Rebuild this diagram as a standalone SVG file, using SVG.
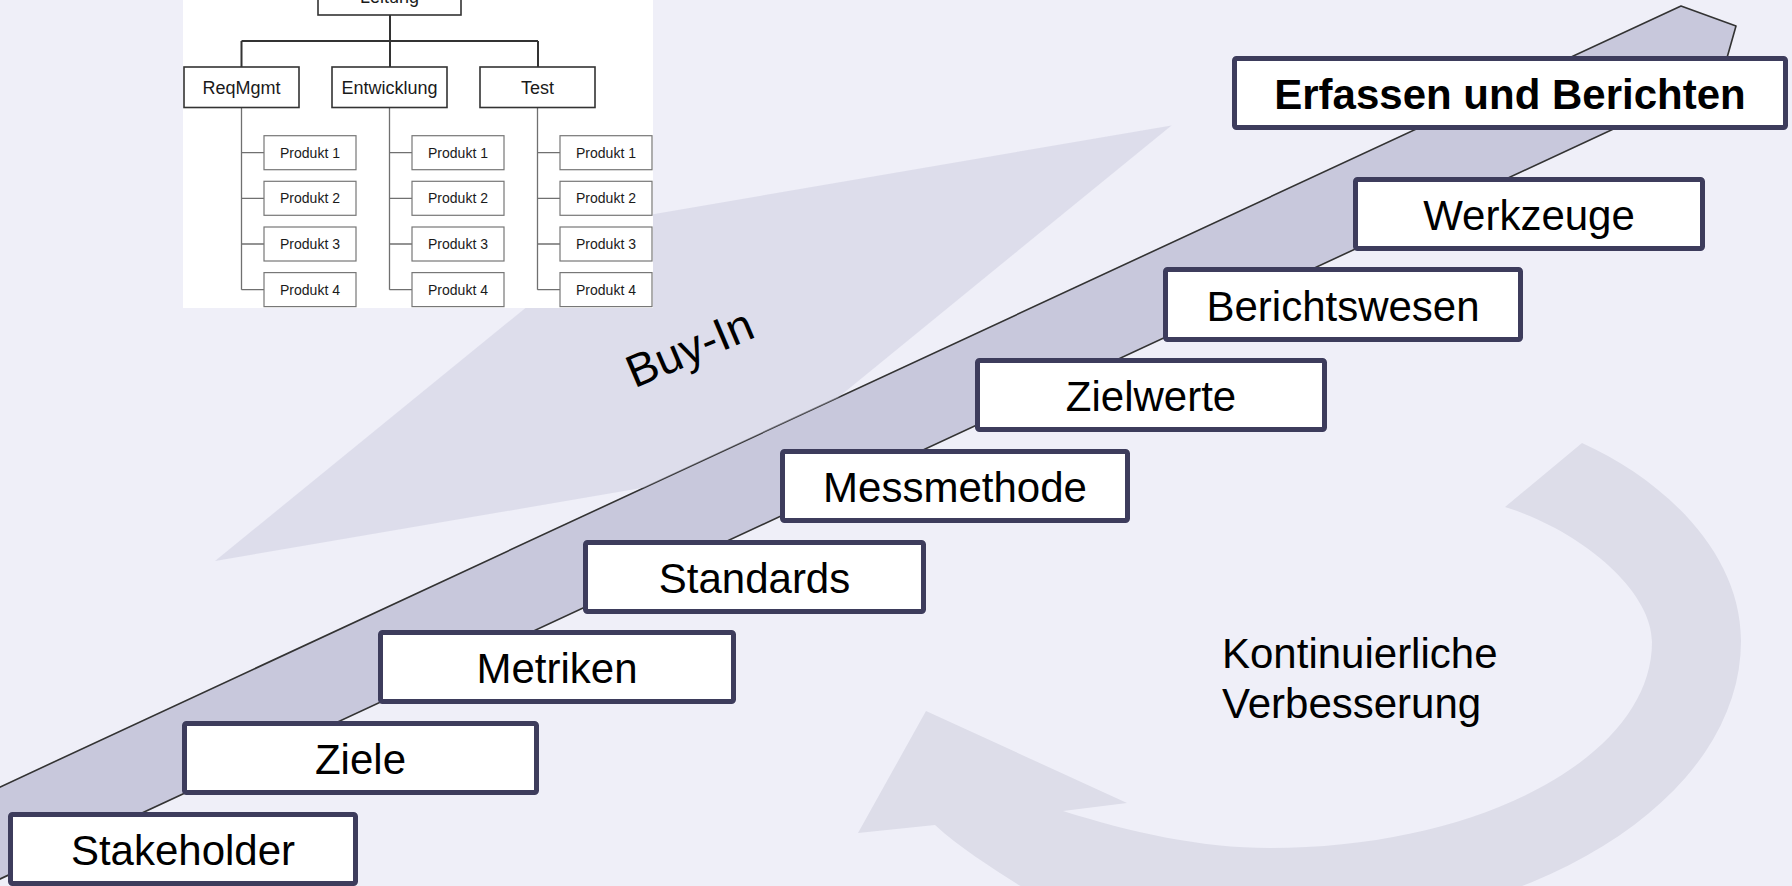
<svg xmlns="http://www.w3.org/2000/svg" width="1792" height="886" viewBox="0 0 1792 886">
<style>
.box{fill:#ffffff;stroke:#3d3c5c;stroke-width:5}
.lbl{font-family:"Liberation Sans",Arial,sans-serif;font-size:42px;fill:#000;text-anchor:middle}
.bold{font-weight:bold}
.oc1{fill:#fff;stroke:#333;stroke-width:1.6}
.oc2{fill:#fff;stroke:#777;stroke-width:1.2}
.oct1{font-family:"Liberation Sans",Arial,sans-serif;font-size:18px;fill:#1a1a1a;text-anchor:middle}
.oct2{font-family:"Liberation Sans",Arial,sans-serif;font-size:14px;fill:#1a1a1a;text-anchor:middle}
.ocl1{stroke:#333;stroke-width:2;fill:none}
.ocl2{stroke:#707070;stroke-width:1.3;fill:none}
.light{fill:#dddde9}
</style>
<rect x="0" y="0" width="1792" height="886" fill="#efeff8"/>

<g id="cycle-arrow">
<path class="light" d="M 1582 443 C 1660 478 1741 550 1741 641 A 471 290 0 0 1 1270 931 A 471 290 0 0 1 1022 887 C 995 870 960 848 935 825 L 858 833 L 926 711 L 1127 803 L 1063 811 C 1130 832 1200 848 1270 848 C 1481 848 1652 756 1652 642 C 1652 590 1580 530 1505 507 Z"/>
</g>

<g id="ramp">
<path d="M -20 796.3 L 1681 6 L 1736 26 L 1721 79 L -20 888.3 Z" fill="#c8c8dc" stroke="#333333" stroke-width="1.6" stroke-linejoin="round"/>
</g>

<g id="buy-in-shape">
<polygon points="215,561 637,217 1171.5,125.4 837.5,397.9 644.4,487.6" fill="#c8c8dc" fill-opacity="0.46"/>
<text x="634.6" y="388.4" transform="rotate(-23 634.6 388.4)" font-family="Liberation Sans, Arial, sans-serif" font-size="46" fill="#000">Buy-In</text>
</g>

<g id="orgchart">
<rect x="183" y="0" width="470" height="308" fill="#ffffff"/>
<g id="connectors">
<path class="ocl1" d="M 390 15 V 41 M 241.5 41 H 538 M 241.5 41 V 67 M 390 41 V 67 M 538 41 V 67"/>
<path class="ocl2" d="M 241.5 107 V 289.7 M 389.5 107 V 289.7 M 537.5 107 V 289.7"/>
<path class="ocl2" d="M 241.5 152.7 H 264 M 241.5 198.3 H 264 M 241.5 244 H 264 M 241.5 289.7 H 264 M 389.5 152.7 H 412 M 389.5 198.3 H 412 M 389.5 244 H 412 M 389.5 289.7 H 412 M 537.5 152.7 H 560 M 537.5 198.3 H 560 M 537.5 244 H 560 M 537.5 289.7 H 560"/>
</g>
<g id="oc-leitung"><rect class="oc1" x="318" y="-10" width="143" height="25"/><text class="oct1" x="389.5" y="2.5">Leitung</text></g>
<g id="oc-reqmgmt"><rect class="oc1" x="184" y="67" width="115" height="40.5"/><text class="oct1" x="241.5" y="94">ReqMgmt</text></g>
<g id="oc-entwicklung"><rect class="oc1" x="332" y="67" width="115" height="40.5"/><text class="oct1" x="389.5" y="94">Entwicklung</text></g>
<g id="oc-test"><rect class="oc1" x="480" y="67" width="115" height="40.5"/><text class="oct1" x="537.5" y="94">Test</text></g>
<g id="oc-r1"><rect class="oc2" x="264" y="135.7" width="92" height="34"/><text class="oct2" x="310" y="157.7">Produkt 1</text></g>
<g id="oc-r2"><rect class="oc2" x="264" y="181.3" width="92" height="34"/><text class="oct2" x="310" y="203.3">Produkt 2</text></g>
<g id="oc-r3"><rect class="oc2" x="264" y="227" width="92" height="34"/><text class="oct2" x="310" y="249">Produkt 3</text></g>
<g id="oc-r4"><rect class="oc2" x="264" y="272.6" width="92" height="34"/><text class="oct2" x="310" y="294.6">Produkt 4</text></g>
<g id="oc-e1"><rect class="oc2" x="412" y="135.7" width="92" height="34"/><text class="oct2" x="458" y="157.7">Produkt 1</text></g>
<g id="oc-e2"><rect class="oc2" x="412" y="181.3" width="92" height="34"/><text class="oct2" x="458" y="203.3">Produkt 2</text></g>
<g id="oc-e3"><rect class="oc2" x="412" y="227" width="92" height="34"/><text class="oct2" x="458" y="249">Produkt 3</text></g>
<g id="oc-e4"><rect class="oc2" x="412" y="272.6" width="92" height="34"/><text class="oct2" x="458" y="294.6">Produkt 4</text></g>
<g id="oc-t1"><rect class="oc2" x="560" y="135.7" width="92" height="34"/><text class="oct2" x="606" y="157.7">Produkt 1</text></g>
<g id="oc-t2"><rect class="oc2" x="560" y="181.3" width="92" height="34"/><text class="oct2" x="606" y="203.3">Produkt 2</text></g>
<g id="oc-t3"><rect class="oc2" x="560" y="227" width="92" height="34"/><text class="oct2" x="606" y="249">Produkt 3</text></g>
<g id="oc-t4"><rect class="oc2" x="560" y="272.6" width="92" height="34"/><text class="oct2" x="606" y="294.6">Produkt 4</text></g>
</g>

<g id="step-stakeholder"><rect class="box" x="10.5" y="814.5" width="345" height="69" rx="2"/><text class="lbl" x="183" y="865">Stakeholder</text></g>
<g id="step-ziele"><rect class="box" x="184.5" y="723.5" width="352" height="69" rx="2"/><text class="lbl" x="360.5" y="774">Ziele</text></g>
<g id="step-metriken"><rect class="box" x="380.5" y="632.5" width="353" height="69" rx="2"/><text class="lbl" x="557" y="683">Metriken</text></g>
<g id="step-standards"><rect class="box" x="585.5" y="542.5" width="338" height="69" rx="2"/><text class="lbl" x="754.5" y="593">Standards</text></g>
<g id="step-messmethode"><rect class="box" x="782.5" y="451.5" width="345" height="69" rx="2"/><text class="lbl" x="955" y="502">Messmethode</text></g>
<g id="step-zielwerte"><rect class="box" x="977.5" y="360.5" width="347" height="69" rx="2"/><text class="lbl" x="1151" y="411">Zielwerte</text></g>
<g id="step-berichtswesen"><rect class="box" x="1165.5" y="269.5" width="355" height="70" rx="2"/><text class="lbl" x="1343" y="321">Berichtswesen</text></g>
<g id="step-werkzeuge"><rect class="box" x="1355.5" y="179.5" width="347" height="69" rx="2"/><text class="lbl" x="1529" y="230">Werkzeuge</text></g>
<g id="step-erfassen"><rect class="box" x="1234.5" y="58.5" width="551" height="69" rx="2"/><text class="lbl bold" x="1510" y="109">Erfassen und Berichten</text></g>

<g id="cycle-label">
<text font-family="Liberation Sans, Arial, sans-serif" font-size="42" fill="#000"><tspan x="1222" y="668">Kontinuierliche</tspan><tspan x="1222" y="718">Verbesserung</tspan></text>
</g>
</svg>
